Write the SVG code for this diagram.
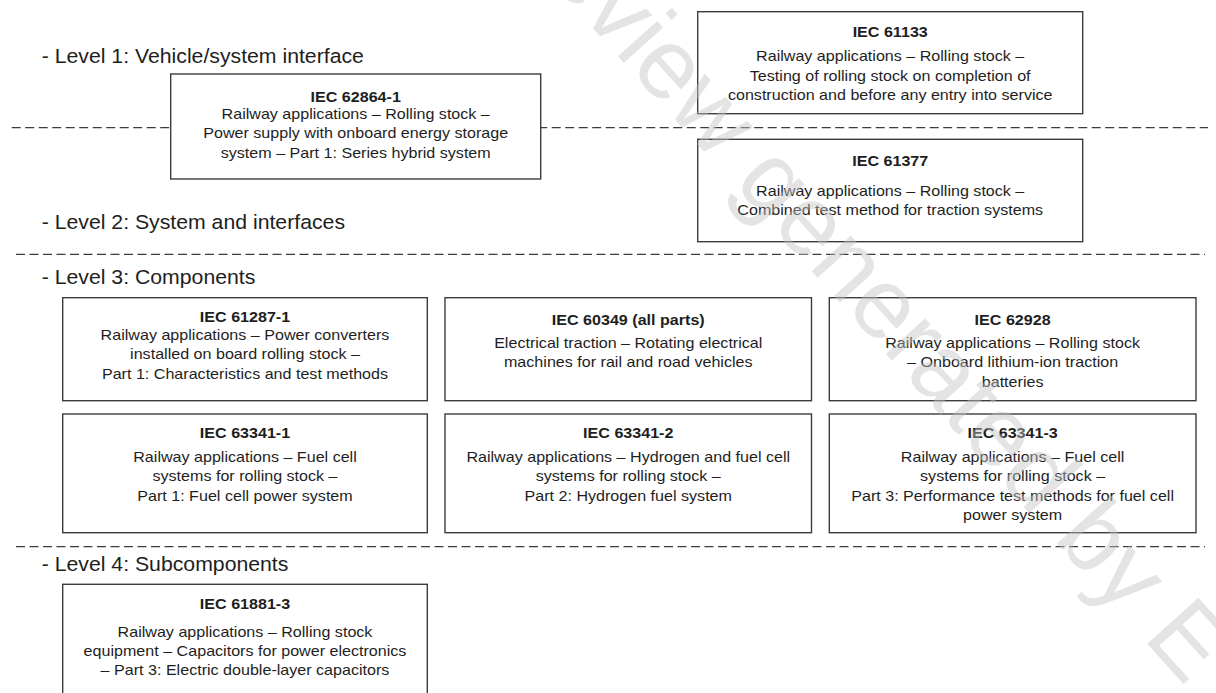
<svg xmlns="http://www.w3.org/2000/svg" width="1216" height="693" viewBox="0 0 1216 693">
<style>
.box{fill:#fff;stroke:#3c3c3c;stroke-width:1.4}
.sep{stroke:#3c3c3c;stroke-width:1.3;stroke-dasharray:9 4.5;fill:none}
.t{font-family:"Liberation Sans",Arial,sans-serif;font-size:14.3px;fill:#1e1e1e;text-anchor:middle}
.h{font-weight:bold}
.lvl{font-family:"Liberation Sans",Arial,sans-serif;font-size:19.5px;fill:#1e1e1e}
.wm{font-family:"Liberation Sans",Arial,sans-serif;font-size:100px;fill:#c4c4c4;fill-opacity:0.45}
</style>
<rect width="1216" height="693" fill="#fff"/>
<g id="separators">
<line class="sep" x1="11.7" y1="127.7" x2="1208" y2="127.7"/>
<line class="sep" x1="16" y1="254.3" x2="1205" y2="254.3"/>
<line class="sep" x1="16" y1="546.7" x2="1205" y2="546.7"/>
</g>
<g id="levels">
<text class="lvl" transform="translate(41.7 63.3) scale(1.09 1)">- Level 1: Vehicle/system interface</text>
<text class="lvl" transform="translate(41.7 229.3) scale(1.09 1)">- Level 2: System and interfaces</text>
<text class="lvl" transform="translate(41.7 283.5) scale(1.09 1)">- Level 3: Components</text>
<text class="lvl" transform="translate(41.7 570.7) scale(1.09 1)">- Level 4: Subcomponents</text>
</g>
<g id="connectors"></g>
<g id="iec62864-1">
<rect class="box" x="170.7" y="74" width="370" height="105"/>
<text class="t" transform="translate(355.7 0) scale(1.125 1)"><tspan class="h" x="0" y="101.7">IEC 62864-1</tspan><tspan x="0" y="119.3">Railway applications – Rolling stock –</tspan><tspan x="0" y="138.5">Power supply with onboard energy storage</tspan><tspan x="0" y="157.7">system – Part 1: Series hybrid system</tspan></text>
</g>
<g id="iec61133">
<rect class="box" x="697.7" y="11.7" width="385" height="102"/>
<text class="t" transform="translate(890.2 0) scale(1.125 1)"><tspan class="h" x="0" y="37.3">IEC 61133</tspan><tspan x="0" y="61.5">Railway applications – Rolling stock –</tspan><tspan x="0" y="80.8">Testing of rolling stock on completion of</tspan><tspan x="0" y="100.1">construction and before any entry into service</tspan></text>
</g>
<g id="iec61377">
<rect class="box" x="697.7" y="139.3" width="385" height="102.4"/>
<text class="t" transform="translate(890.2 0) scale(1.125 1)"><tspan class="h" x="0" y="166.2">IEC 61377</tspan><tspan x="0" y="196.2">Railway applications – Rolling stock –</tspan><tspan x="0" y="215.5">Combined test method for traction systems</tspan></text>
</g>
<g id="iec61287-1">
<rect class="box" x="62.7" y="297.7" width="364.6" height="103"/>
<text class="t" transform="translate(245 0) scale(1.125 1)"><tspan class="h" x="0" y="322.3">IEC 61287-1</tspan><tspan x="0" y="340">Railway applications – Power converters</tspan><tspan x="0" y="359.3">installed on board rolling stock –</tspan><tspan x="0" y="378.6">Part 1: Characteristics and test methods</tspan></text>
</g>
<g id="iec60349">
<rect class="box" x="445" y="297.7" width="366.5" height="103"/>
<text class="t" transform="translate(628.25 0) scale(1.125 1)"><tspan class="h" x="0" y="325">IEC 60349 (all parts)</tspan><tspan x="0" y="348">Electrical traction – Rotating electrical</tspan><tspan x="0" y="367.3">machines for rail and road vehicles</tspan></text>
</g>
<g id="iec62928">
<rect class="box" x="829.3" y="297.7" width="366.7" height="103"/>
<text class="t" transform="translate(1012.6 0) scale(1.125 1)"><tspan class="h" x="0" y="325">IEC 62928</tspan><tspan x="0" y="348">Railway applications – Rolling stock</tspan><tspan x="0" y="367.3">– Onboard lithium-ion traction</tspan><tspan x="0" y="386.6">batteries</tspan></text>
</g>
<g id="iec63341-1">
<rect class="box" x="62.7" y="414" width="364.6" height="118.7"/>
<text class="t" transform="translate(245 0) scale(1.125 1)"><tspan class="h" x="0" y="438.5">IEC 63341-1</tspan><tspan x="0" y="462">Railway applications – Fuel cell</tspan><tspan x="0" y="481.3">systems for rolling stock –</tspan><tspan x="0" y="500.6">Part 1: Fuel cell power system</tspan></text>
</g>
<g id="iec63341-2">
<rect class="box" x="445" y="414" width="366.5" height="118.7"/>
<text class="t" transform="translate(628.25 0) scale(1.125 1)"><tspan class="h" x="0" y="438.5">IEC 63341-2</tspan><tspan x="0" y="462">Railway applications – Hydrogen and fuel cell</tspan><tspan x="0" y="481.3">systems for rolling stock –</tspan><tspan x="0" y="500.6">Part 2: Hydrogen fuel system</tspan></text>
</g>
<g id="iec63341-3">
<rect class="box" x="829.3" y="414" width="366.7" height="118.7"/>
<text class="t" transform="translate(1012.6 0) scale(1.125 1)"><tspan class="h" x="0" y="438.5">IEC 63341-3</tspan><tspan x="0" y="462">Railway applications – Fuel cell</tspan><tspan x="0" y="481.3">systems for rolling stock –</tspan><tspan x="0" y="500.6">Part 3: Performance test methods for fuel cell</tspan><tspan x="0" y="519.9">power system</tspan></text>
</g>
<g id="iec61881-3">
<rect class="box" x="62.7" y="584.3" width="364.6" height="130"/>
<text class="t" transform="translate(245 0) scale(1.125 1)"><tspan class="h" x="0" y="609.3">IEC 61881-3</tspan><tspan x="0" y="636.7">Railway applications – Rolling stock</tspan><tspan x="0" y="656">equipment – Capacitors for power electronics</tspan><tspan x="0" y="675.3">– Part 3: Electric double-layer capacitors</tspan></text>
</g>
<text class="wm" transform="translate(483.3 -93.4) rotate(48)">preview generated by E</text>
</svg>
